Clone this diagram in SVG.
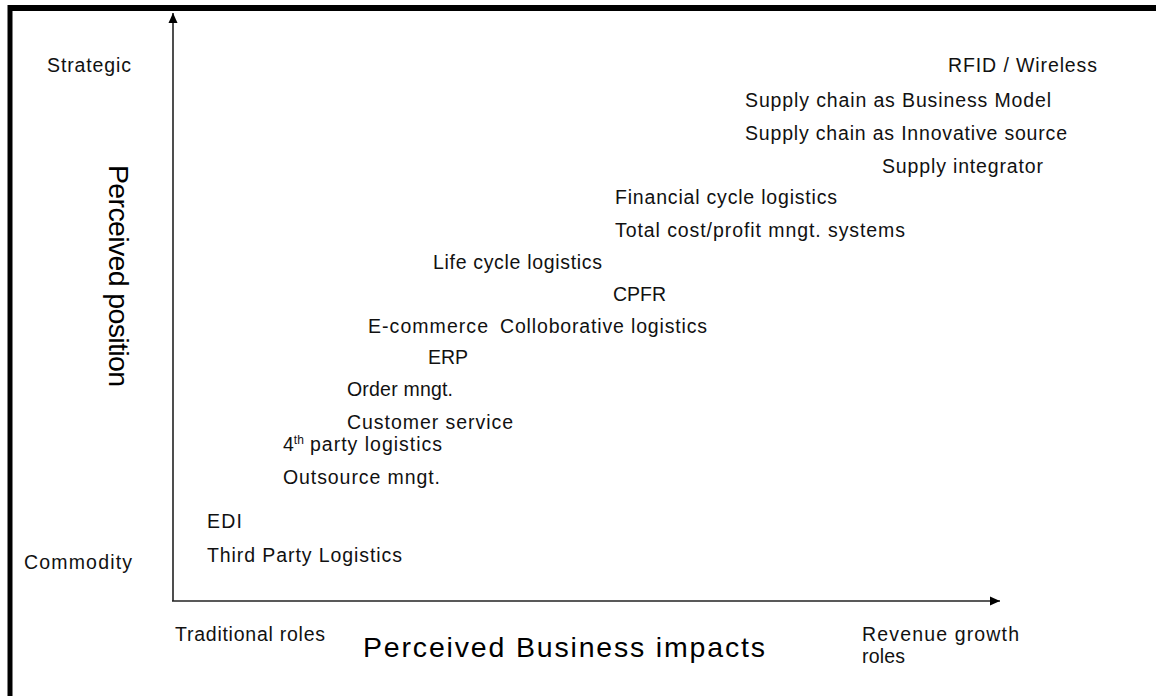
<svg xmlns="http://www.w3.org/2000/svg" width="1156" height="696" viewBox="0 0 1156 696">
  <defs>
    <style>
      .lbl { font-family: "Liberation Sans", Arial, sans-serif; font-size: 19.5px; fill: #111; }
      .big { font-family: "Liberation Sans", Arial, sans-serif; font-size: 28.5px; fill: #000; }
      .axis { stroke: #222; stroke-width: 1.6; fill: none; }
      .frame { stroke: #000; fill: none; }
    </style>
    <marker id="arrow" viewBox="0 0 10 10" refX="10" refY="5" markerWidth="10" markerHeight="10" markerUnits="userSpaceOnUse" orient="auto">
      <path d="M0,0.5 L10,5 L0,9.5 Z" fill="#000"/>
    </marker>
  </defs>
  <rect x="0" y="0" width="1156" height="696" fill="#fff"/>
  <g id="frame">
    <line class="frame" x1="10" y1="5" x2="10" y2="696" stroke-width="5"/>
    <line class="frame" x1="8" y1="8" x2="1156" y2="8" stroke-width="6"/>
  </g>
  <g id="connectors">
    <line class="axis" x1="173" y1="601" x2="173" y2="13" marker-end="url(#arrow)"/>
    <line class="axis" x1="172" y1="601" x2="1000" y2="601" marker-end="url(#arrow)"/>
  </g>
  <g id="axis-labels">
    <text class="lbl" x="47" y="72" textLength="84" lengthAdjust="spacing">Strategic</text>
    <text class="lbl" x="24" y="569" textLength="108" lengthAdjust="spacing">Commodity</text>
    <text class="lbl" x="175" y="641" textLength="150" lengthAdjust="spacing">Traditional roles</text>
    <text class="lbl" x="862" y="641" textLength="157" lengthAdjust="spacing">Revenue growth</text>
    <text class="lbl" x="862" y="663" textLength="43" lengthAdjust="spacing">roles</text>
    <text class="big" x="363" y="657" textLength="402" lengthAdjust="spacing">Perceived Business impacts</text>
    <text class="big" transform="translate(109,165) rotate(90)" x="0" y="0" textLength="222" lengthAdjust="spacing">Perceived position</text>
  </g>
  <g id="n-rfid"><text class="lbl" x="948" y="72" textLength="149" lengthAdjust="spacing">RFID / Wireless</text></g>
  <g id="n-sc-business"><text class="lbl" x="745" y="107" textLength="306" lengthAdjust="spacing">Supply chain as Business Model</text></g>
  <g id="n-sc-innovative"><text class="lbl" x="745" y="140" textLength="322" lengthAdjust="spacing">Supply chain as Innovative source</text></g>
  <g id="n-supply-integrator"><text class="lbl" x="882" y="173" textLength="161" lengthAdjust="spacing">Supply integrator</text></g>
  <g id="n-financial"><text class="lbl" x="615" y="204" textLength="222" lengthAdjust="spacing">Financial cycle logistics</text></g>
  <g id="n-total-cost"><text class="lbl" x="615" y="237" textLength="290" lengthAdjust="spacing">Total cost/profit mngt. systems</text></g>
  <g id="n-life-cycle"><text class="lbl" x="433" y="269" textLength="169" lengthAdjust="spacing">Life cycle logistics</text></g>
  <g id="n-cpfr"><text class="lbl" x="613" y="301" textLength="53" lengthAdjust="spacing">CPFR</text></g>
  <g id="n-ecommerce"><text class="lbl" x="368" y="333" textLength="120" lengthAdjust="spacing">E-commerce</text></g>
  <g id="n-collaborative"><text class="lbl" x="500" y="333" textLength="207" lengthAdjust="spacing">Colloborative logistics</text></g>
  <g id="n-erp"><text class="lbl" x="428" y="364" textLength="40" lengthAdjust="spacing">ERP</text></g>
  <g id="n-order"><text class="lbl" x="347" y="396" textLength="106" lengthAdjust="spacing">Order mngt.</text></g>
  <g id="n-customer"><text class="lbl" x="347" y="429" textLength="166" lengthAdjust="spacing">Customer service</text></g>
  <g id="n-4pl"><text class="lbl" x="283" y="451">4<tspan font-size="12" dy="-7">th</tspan><tspan x="310" dy="7" textLength="132" lengthAdjust="spacing">party logistics</tspan></text></g>
  <g id="n-outsource"><text class="lbl" x="283" y="484" textLength="157" lengthAdjust="spacing">Outsource mngt.</text></g>
  <g id="n-edi"><text class="lbl" x="207" y="528" textLength="35" lengthAdjust="spacing">EDI</text></g>
  <g id="n-3pl"><text class="lbl" x="207" y="562" textLength="195" lengthAdjust="spacing">Third Party Logistics</text></g>
</svg>
